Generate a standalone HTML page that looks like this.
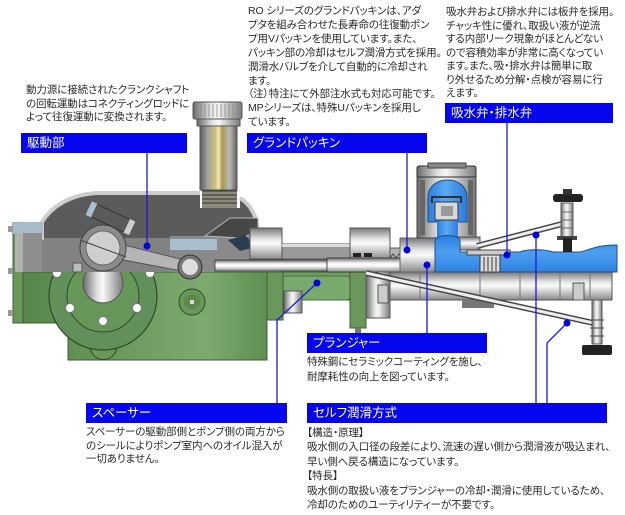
<!DOCTYPE html>
<html><head><meta charset="utf-8">
<style>
html,body{margin:0;padding:0;background:#fff;}
body{width:625px;height:515px;position:relative;overflow:hidden;font-family:"Liberation Sans","Noto Sans CJK JP",sans-serif;}
.t{position:absolute;font-size:10.5px;letter-spacing:-0.1px;color:#2a2a2a;white-space:nowrap;font-feature-settings:"palt";}
.bar{position:absolute;background:#0505ee;color:#fff;font-size:12.5px;height:20px;line-height:20px;padding-left:6px;box-sizing:border-box;font-feature-settings:"palt";white-space:nowrap;}
svg{position:absolute;left:0;top:0;}
</style></head><body>
<svg width="625" height="515" viewBox="0 0 625 515">
<defs>
<linearGradient id="mV" x1="0" y1="0" x2="0" y2="1"><stop offset="0" stop-color="#777"/><stop offset=".35" stop-color="#e4e4e4"/><stop offset=".5" stop-color="#fafafa"/><stop offset="1" stop-color="#8a8a8a"/></linearGradient>
<linearGradient id="mH" x1="0" y1="0" x2="1" y2="0"><stop offset="0" stop-color="#6a6a6a"/><stop offset=".35" stop-color="#e0e0e0"/><stop offset=".5" stop-color="#f8f8f8"/><stop offset="1" stop-color="#7a7a7a"/></linearGradient>
<linearGradient id="brass" x1="0" y1="0" x2="1" y2="0"><stop offset="0" stop-color="#5a5a5a"/><stop offset=".2" stop-color="#a0a0a0"/><stop offset=".42" stop-color="#cfc27a"/><stop offset=".5" stop-color="#f2ebb8"/><stop offset=".6" stop-color="#a89850"/><stop offset=".8" stop-color="#b8b8b8"/><stop offset="1" stop-color="#606060"/></linearGradient>
<linearGradient id="grn" x1="0" y1="0" x2="1" y2="0"><stop offset="0" stop-color="#56864a"/><stop offset=".4" stop-color="#6c9a5e"/><stop offset=".75" stop-color="#7dab6f"/><stop offset="1" stop-color="#5f8f52"/></linearGradient>
<linearGradient id="blu" x1="0" y1="0" x2="0" y2="1"><stop offset="0" stop-color="#2a7de0"/><stop offset=".45" stop-color="#4d9ff0"/><stop offset="1" stop-color="#2f84e0"/></linearGradient>
<linearGradient id="bluH" x1="0" y1="0" x2="1" y2="0"><stop offset="0" stop-color="#2a7de0"/><stop offset=".45" stop-color="#5aaaf2"/><stop offset="1" stop-color="#2a7de0"/></linearGradient>
<linearGradient id="rod" x1="0" y1="0" x2="0" y2="1"><stop offset="0" stop-color="#6a6a6a"/><stop offset=".35" stop-color="#f2f2f2"/><stop offset=".55" stop-color="#ffffff"/><stop offset="1" stop-color="#8a8a8a"/></linearGradient>
</defs>

<!-- green base -->
<path d="M23 272 H267 V360 H68 V323 H23 Z" fill="url(#grn)" stroke="#3d5e34"/>
<path d="M90 318 V346 A13.5 13.5 0 0 0 117 346 V318" fill="#6a9859" stroke="#2f4a28"/>
<rect x="98" y="340" width="10" height="10" rx="2" fill="#fff" stroke="#333"/>
<rect x="13" y="223" width="10" height="100" fill="#6a985b" stroke="#3d5e34"/>
<rect x="13" y="223" width="10" height="11" fill="#a8bccb"/>
<rect x="8" y="226" width="5" height="6" fill="#999"/><rect x="8" y="268" width="5" height="6" fill="#999"/><rect x="8" y="310" width="5" height="6" fill="#999"/>
<circle cx="103" cy="296" r="54" fill="#62905a" stroke="#2f4a28" stroke-width="1.2"/>
<circle cx="103" cy="296" r="36" fill="#679659" stroke="#2f4a28"/>
<circle cx="103" cy="283" r="20" fill="url(#mH)" stroke="#555"/>
<g fill="#fff" stroke="#777"><circle cx="57" cy="273" r="4.5"/><circle cx="150" cy="273" r="4.5"/><circle cx="70" cy="308" r="4.5"/><circle cx="137" cy="308" r="4.5"/><circle cx="103" cy="321" r="4.5"/></g>
<circle cx="192" cy="302" r="13" fill="#6a985b" stroke="#2f4a28"/>
<circle cx="192" cy="302" r="8" fill="#5a8a4c"/>
<rect x="190" y="300" width="4" height="4" fill="#ddd"/>

<!-- spacer -->
<rect x="267" y="272" width="84" height="28" fill="#6f9d62" stroke="#3d5e34"/>
<rect x="282" y="276" width="68" height="24" rx="3" fill="#7aa96d" stroke="#4b7040"/>
<rect x="267" y="272" width="16" height="48" fill="#6a985b" stroke="#3d5e34"/>
<rect x="350" y="272" width="16" height="56" fill="#6a985b" stroke="#3d5e34"/>
<rect x="284" y="291" width="18" height="22" fill="url(#mH)" stroke="#555"/>
<rect x="355" y="328" width="6" height="8" fill="#777"/>

<!-- crankcase -->
<path d="M42 272 V222 C52 206 70 195 96 193 H200 V208 H240 V198 C250 204 258 216 258 234 V272 Z" fill="#5b5b5b"/>
<rect x="42" y="238" width="216" height="34" fill="#828282"/>
<path d="M42 240 V222 C52 206 70 195 96 193 H200 M240 198 C250 204 258 216 258 234" fill="none" stroke="#cdcdcd" stroke-width="4"/>
<rect x="23" y="222" width="20" height="12" fill="#a8bccb"/>
<rect x="15" y="233" width="27" height="39" fill="#8e8e8e"/>
<rect x="15" y="233" width="8" height="39" fill="#b0b0b0"/>
<rect x="170" y="236" width="112" height="36" fill="#8a8a8a"/>
<rect x="170" y="239" width="47" height="11" fill="#a9bfd0"/>
<polygon points="205,236 230,218 258,218 258,232 240,238" fill="#474747" stroke="#bbb"/>
<polygon points="228,240 245,235 256,247 240,251" fill="#2e3e52"/>

<!-- housing bars -->
<rect x="250" y="228" width="32" height="31" fill="url(#mV)" stroke="#555"/>
<rect x="282" y="244" width="68" height="15" fill="#9a9a9a" stroke="#555"/>
<rect x="282" y="244" width="68" height="3" fill="#dcdcdc"/>
<rect x="350" y="228" width="40" height="31" fill="url(#mV)" stroke="#555"/>
<rect x="390" y="248" width="45" height="11" fill="#b5b5b5" stroke="#555"/>
<g fill="#222"><rect x="353" y="253" width="8" height="4"/><rect x="364" y="253" width="8" height="4"/></g>
<path d="M390 258 l3 -4 l3 4 l3 -4 l3 4 l3 -4 l3 4 l3 -4 l3 4 l3 -4 l3 4 l3 -4 l3 4 l3 -4 l3 4" fill="none" stroke="#444"/>

<!-- column -->
<rect x="202" y="188" width="35" height="20" fill="#8c8a78"/>
<g stroke="#333" stroke-width="1"><line x1="202" y1="191" x2="237" y2="191"/><line x1="202" y1="195" x2="237" y2="195"/><line x1="202" y1="199" x2="237" y2="199"/><line x1="202" y1="203" x2="237" y2="203"/></g>
<rect x="200" y="124" width="37" height="66" fill="url(#brass)" stroke="#555"/>
<rect x="197" y="118" width="43" height="8" fill="url(#mH)" stroke="#555"/>
<rect x="193" y="102" width="49" height="17" rx="2" fill="url(#mH)" stroke="#555"/>
<g stroke="#8a8a8a" stroke-width=".8"><line x1="197" y1="104" x2="197" y2="117"/><line x1="201" y1="104" x2="201" y2="117"/><line x1="205" y1="104" x2="205" y2="117"/><line x1="209" y1="104" x2="209" y2="117"/><line x1="213" y1="104" x2="213" y2="117"/><line x1="217" y1="104" x2="217" y2="117"/><line x1="221" y1="104" x2="221" y2="117"/><line x1="225" y1="104" x2="225" y2="117"/><line x1="229" y1="104" x2="229" y2="117"/><line x1="233" y1="104" x2="233" y2="117"/><line x1="237" y1="104" x2="237" y2="117"/></g>

<!-- plunger rod -->
<rect x="215" y="260" width="112" height="11" fill="url(#rod)" stroke="#333" stroke-width=".8"/>
<rect x="327" y="258" width="120" height="14" fill="url(#rod)" stroke="#333" stroke-width=".8"/>

<!-- connecting rod -->
<polygon points="104.7,240.2 188.7,261.1 191.3,272.9 101.3,255.8" fill="#b5b5b5" stroke="#555"/>
<circle cx="103" cy="248" r="23" fill="#8c8c8c" stroke="#444"/>
<circle cx="103" cy="248" r="17" fill="#cfcfcf" stroke="#666"/>
<line x1="80" y1="240" x2="126" y2="257" stroke="#444"/>
<g transform="rotate(25 110 218)"><rect x="90" y="211" width="40" height="14" fill="#5a5a5a" stroke="#333"/><rect x="86" y="210" width="7" height="16" fill="#a9bfd0" stroke="#555"/><rect x="128" y="210" width="7" height="16" fill="#ccc" stroke="#555"/></g>
<rect x="73" y="263" width="9" height="9" fill="#bbb" stroke="#555"/>
<circle cx="190" cy="267" r="12" fill="#777" stroke="#333"/>
<circle cx="190" cy="267" r="8" fill="#ddd"/>

<!-- pump body right -->
<rect x="390" y="272" width="222" height="28" fill="url(#mV)" stroke="#555"/>
<g stroke="#777"><line x1="420" y1="273" x2="420" y2="299"/><line x1="480" y1="273" x2="480" y2="299"/><line x1="520" y1="273" x2="520" y2="299"/><line x1="560" y1="273" x2="560" y2="299"/><line x1="590" y1="273" x2="590" y2="299"/></g>
<rect x="462" y="300" width="32" height="8" fill="#777"/>
<rect x="366" y="272" width="24" height="46" fill="url(#mH)" stroke="#555"/>
<rect x="378" y="285" width="10" height="18" fill="#ccc" stroke="#555"/>
<rect x="573" y="283" width="11" height="17" fill="#ccc" stroke="#555"/>
<rect x="400" y="238" width="36" height="34" fill="url(#mV)" stroke="#666"/>

<!-- valve head -->
<rect x="417" y="176" width="59" height="62" fill="url(#mH)" stroke="#444"/>
<rect x="420" y="180" width="5" height="55" fill="#666"/>
<rect x="468" y="180" width="5" height="55" fill="#666"/>
<rect x="417" y="166" width="59" height="11" rx="2" fill="url(#mH)" stroke="#333"/>
<rect x="428" y="163" width="38" height="5" fill="#888" stroke="#444"/>
<path d="M428 222 V198 C428 186 437 180 447.5 180 C458 180 467 186 467 198 V222 Z" fill="url(#bluH)" stroke="#1d4f8a"/>
<rect x="437" y="218" width="21" height="36" fill="url(#bluH)"/>
<rect x="456" y="237" width="24" height="13" fill="url(#mV)" stroke="#555"/>
<path d="M435 240 C437 234 458 234 460 240 V252 H520 C526 249 545 249 553 252 H580 C590 250 595 245 617 245 V272 H435 Z" fill="url(#blu)" stroke="#1d4f8a"/>
<rect x="435" y="202" width="23" height="18" fill="#d8d8d8" stroke="#333"/>
<path d="M432 203 V197 H461 V203" fill="none" stroke="#333" stroke-width="2"/>
<rect x="441" y="206" width="12" height="10" fill="#999"/>
<rect x="467" y="250" width="43" height="5" fill="#ccc" stroke="#444"/>
<rect x="480" y="255" width="20" height="17" fill="#ddd" stroke="#333"/>
<g stroke="#333"><line x1="484" y1="257" x2="484" y2="271"/><line x1="488" y1="257" x2="488" y2="271"/><line x1="492" y1="257" x2="492" y2="271"/><line x1="496" y1="257" x2="496" y2="271"/></g>

<!-- diagonal pipes -->
<line x1="477" y1="246" x2="562" y2="224" stroke="#444" stroke-width="6"/>
<line x1="477" y1="246" x2="562" y2="224" stroke="#eee" stroke-width="3"/>
<line x1="366" y1="273" x2="598" y2="324" stroke="#444" stroke-width="6"/>
<line x1="366" y1="273" x2="598" y2="324" stroke="#eee" stroke-width="3"/>

<!-- right valves -->
<rect x="561" y="203" width="12" height="34" fill="url(#mH)" stroke="#555"/>
<g stroke="#666"><line x1="561" y1="212" x2="573" y2="212"/><line x1="561" y1="220" x2="573" y2="220"/><line x1="561" y1="228" x2="573" y2="228"/></g>
<rect x="557" y="236" width="20" height="4" fill="#444"/>
<rect x="563" y="238" width="9" height="14" fill="#222"/>
<rect x="553" y="194" width="30" height="8" rx="3" fill="#222"/>
<rect x="563" y="189" width="9" height="6" fill="#333"/>
<rect x="592" y="300" width="10" height="44" fill="url(#mH)" stroke="#555"/>
<g stroke="#444"><line x1="590" y1="320" x2="604" y2="320"/><line x1="590" y1="328" x2="604" y2="328"/><line x1="590" y1="336" x2="604" y2="336"/></g>
<rect x="582" y="345" width="30" height="10" rx="2" fill="#222"/>

<!-- connectors -->
<g stroke="#1a1ad8" stroke-width="1.3" fill="none">
<path d="M147 153 V246"/><path d="M407 153 V250"/><path d="M507 123 V255"/><path d="M427 333 V265"/>
<path d="M277 403 V320 L317 283"/><path d="M536 403 V235"/><path d="M547 403 V343 L567 323"/>
</g>
<g fill="#0000dd"><circle cx="147" cy="246" r="3.5"/><circle cx="407" cy="250" r="3.5"/><circle cx="507" cy="255" r="3.5"/><circle cx="427" cy="265" r="3.5"/><circle cx="317" cy="283" r="3.5"/><circle cx="536" cy="235" r="3.5"/><circle cx="567" cy="323" r="3.5"/></g>
</svg>

<div class="t" style="left:26px;top:84px;line-height:13.5px">動力源に接続されたクランクシャフト<br>の回転運動はコネクティングロッドに<br>よって往復運動に変換されます。</div>
<div class="t" style="left:248px;top:5px;line-height:13.9px">RO シリーズのグランドパッキンは、アダ<br>プタを組み合わせた長寿命の往復動ポン<br>プ用Vパッキンを使用しています。また、<br>パッキン部の冷却はセルフ潤滑方式を採用。<br>潤滑水バルブを介して自動的に冷却され<br>ます。<br>（注）特注にて外部注水式も対応可能です。<br>MPシリーズは、特殊Uパッキンを採用し<br>ています。</div>
<div class="t" style="left:446px;top:6px;line-height:13.5px">吸水弁および排水弁には板弁を採用。<br>チャッキ性に優れ、取扱い液が逆流<br>する内部リーク現象がほとんどない<br>ので容積効率が非常に高くなってい<br>ます。また、吸・排水弁は簡単に取<br>り外せるため分解・点検が容易に行<br>えます。</div>
<div class="t" style="left:307px;top:355px;line-height:15px">特殊鋼にセラミックコーティングを施し、<br>耐摩耗性の向上を図っています。</div>
<div class="t" style="left:86px;top:426px;line-height:13.7px">スペーサーの駆動部側とポンプ側の両方から<br>のシールによりポンプ室内へのオイル混入が<br>一切ありません。</div>
<div class="t" style="left:307px;top:426px;line-height:14.4px">【構造・原理】<br>吸水側の入口径の段差により、流速の遅い側から潤滑液が吸込まれ、<br>早い側へ戻る構造になっています。<br>【特長】<br>吸水側の取扱い液をプランジャーの冷却・潤滑に使用しているため、<br>冷却のためのユーティリティーが不要です。</div>

<div class="bar" style="left:21px;top:133px;width:166px">駆動部</div>
<div class="bar" style="left:247px;top:133px;width:180px">グランドパッキン</div>
<div class="bar" style="left:445px;top:103px;width:168px">吸水弁・排水弁</div>
<div class="bar" style="left:307px;top:333px;width:180px">プランジャー</div>
<div class="bar" style="left:86px;top:403px;width:201px">スペーサー</div>
<div class="bar" style="left:307px;top:403px;width:300px">セルフ潤滑方式</div>
</body></html>
